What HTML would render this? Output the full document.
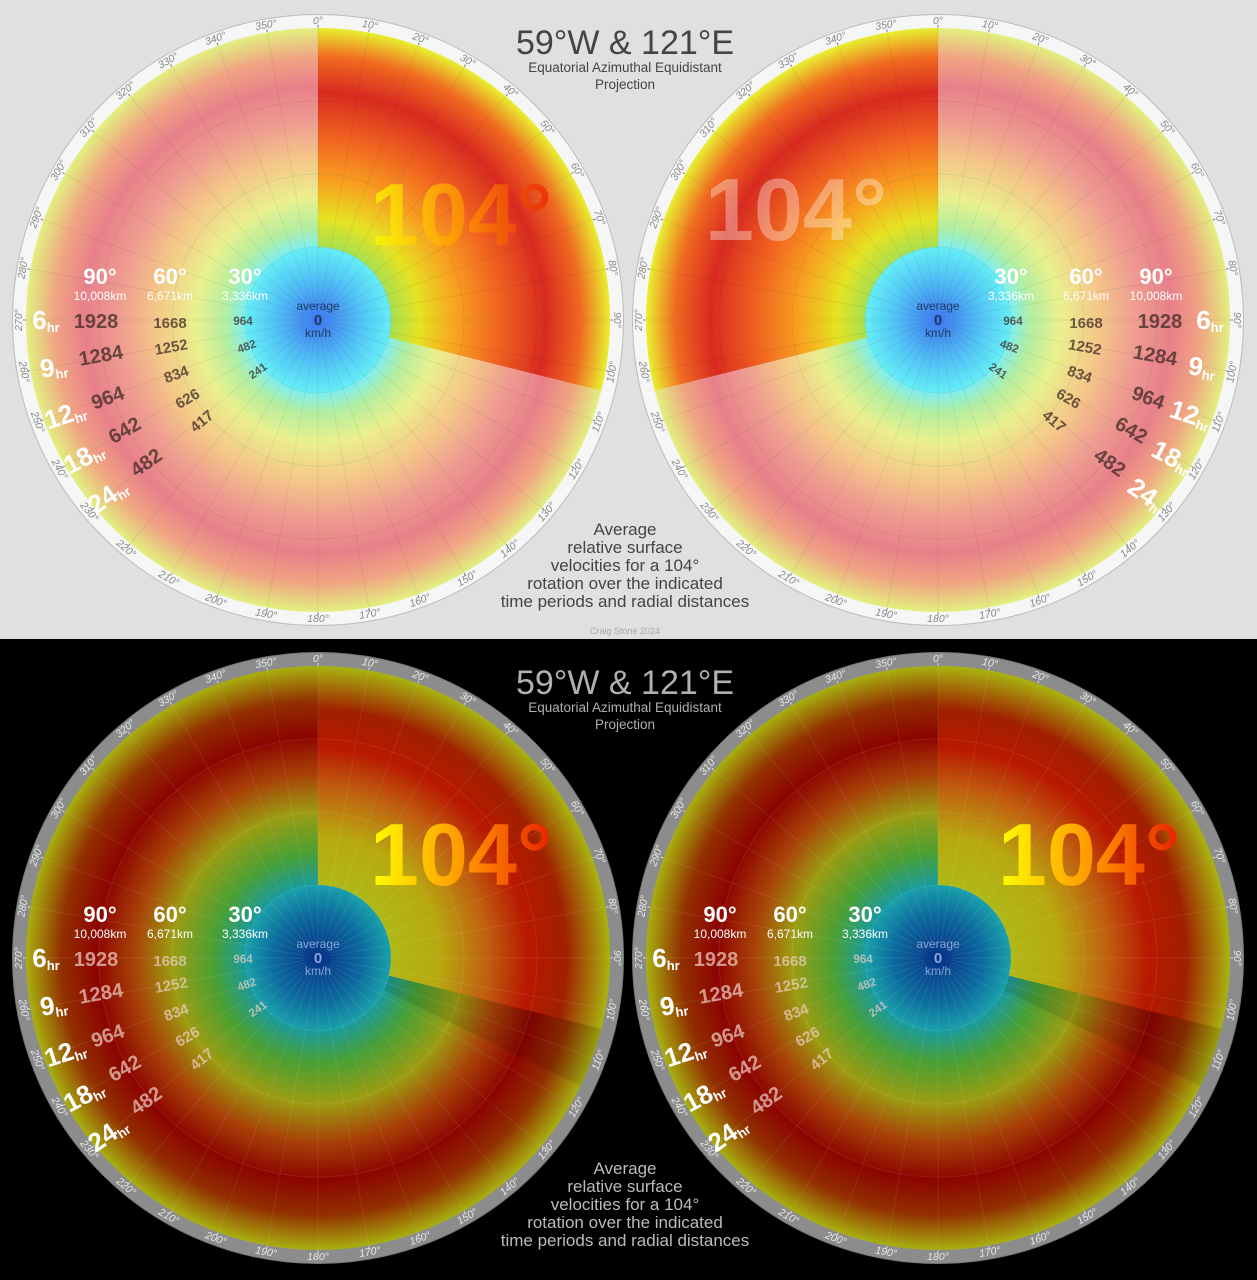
<!DOCTYPE html>
<html><head><meta charset="utf-8"><style>
html,body{margin:0;padding:0;background:#000;}
svg{display:block;font-family:"Liberation Sans",sans-serif;}
</style></head><body>
<svg id="chart" xmlns="http://www.w3.org/2000/svg" width="1257" height="1280" viewBox="0 0 1257 1280">
<rect x="0" y="0" width="1257" height="639" fill="#e0e0e0"/>
<rect x="0" y="639" width="1257" height="641" fill="#000"/>
<g id="discs"></g>
<g text-anchor="middle" fill="#444">
<text x="625" y="54" font-size="34">59°W &amp; 121°E</text>
<text x="625" y="72" font-size="13.5">Equatorial Azimuthal Equidistant</text>
<text x="625" y="89" font-size="13.5">Projection</text>
</g>
<g text-anchor="middle" fill="#b0b0b0">
<text x="625" y="694" font-size="34">59°W &amp; 121°E</text>
<text x="625" y="712" font-size="13.5">Equatorial Azimuthal Equidistant</text>
<text x="625" y="729" font-size="13.5">Projection</text>
</g>
<g text-anchor="middle" fill="#444" font-size="17">
<text x="625" y="535">Average</text>
<text x="625" y="553">relative surface</text>
<text x="625" y="571">velocities for a 104°</text>
<text x="625" y="589">rotation over the indicated</text>
<text x="625" y="607">time periods and radial distances</text>
<text x="625" y="634" font-size="9" fill="#a8a8a8">Craig Stone 2024</text>
</g>
<g text-anchor="middle" fill="#bbb" font-size="17">
<text x="625" y="1174">Average</text>
<text x="625" y="1192">relative surface</text>
<text x="625" y="1210">velocities for a 104°</text>
<text x="625" y="1228">rotation over the indicated</text>
<text x="625" y="1246">time periods and radial distances</text>
</g>
</svg>
<script>
const NS="http://www.w3.org/2000/svg";
const rotationDeg=104;
const angleHeaders=["90°","60°","30°"];
const distanceHeaders=["10,008km","6,671km","3,336km"];
const hourLabels=["6","9","12","18","24"];
const speed90=["1928","1284","964","642","482"];
const speed60=["1668","1252","834","626","417"];
const speed30=["964","482","241"];
const ringTicks=[0,10,20,30,40,50,60,70,80,90,100,110,120,130,140,150,160,170,180,190,200,210,220,230,240,250,260,270,280,290,300,310,320,330,340,350];

const R=292, RI=73, RO=306;
const discs=[
 {id:"tl",cx:318,cy:320,dark:false,w0:0,w1:rotationDeg,mirror:false,bx:370,by:245},
 {id:"tr",cx:938,cy:320,dark:false,w0:360-rotationDeg,w1:360,mirror:true,bx:705,by:240},
 {id:"bl",cx:318,cy:958,dark:true,w0:0,w1:rotationDeg,mirror:false,bx:370,by:885},
 {id:"br",cx:938,cy:958,dark:true,w0:0,w1:rotationDeg,mirror:false,bx:998,by:885}
];
const G={
 lightOut:[[0.25,"#80eef0"],[0.32,"#b4eea0"],[0.42,"#eaf08e"],[0.55,"#f4c888"],[0.68,"#ee9c90"],[0.8,"#e8808a"],[0.9,"#f0a482"],[1,"#e2f080"]],
 lightIn:[[0.25,"#a8e050"],[0.35,"#e6e222"],[0.48,"#f8a020"],[0.62,"#f06420"],[0.78,"#d82a20"],[0.9,"#f06a20"],[1,"#e8f030"]],
 darkOut:[[0.25,"#1a9a9c"],[0.36,"#4aa034"],[0.5,"#9c9c12"],[0.63,"#a84208"],[0.76,"#8c0400"],[0.88,"#923000"],[1,"#a8b010"]],
 darkIn:[[0.25,"#b0b818"],[0.42,"#b8a810"],[0.58,"#c06010"],[0.72,"#b81800"],[0.85,"#a02000"],[1,"#a8b410"]],
 lightCore:[[0,"#3e74ee"],[0.6,"#52c4f6"],[1,"#66eef6"]],
 darkCore:[[0,"#062f86"],[0.6,"#0c6a9e"],[1,"#1aa0aa"]]
};
const defs=document.createElementNS(NS,"defs");
document.getElementById("chart").prepend(defs);
function grad(id,cx,cy,r,stops){
 const g=document.createElementNS(NS,"radialGradient");
 g.setAttribute("id",id);g.setAttribute("gradientUnits","userSpaceOnUse");
 g.setAttribute("cx",cx);g.setAttribute("cy",cy);g.setAttribute("r",r);
 stops.forEach(s=>{const st=document.createElementNS(NS,"stop");st.setAttribute("offset",s[0]);st.setAttribute("stop-color",s[1]);g.appendChild(st);});
 defs.appendChild(g);
}
function pt(cx,cy,r,a){const t=a*Math.PI/180;return [cx+r*Math.sin(t),cy-r*Math.cos(t)];}
function sector(cx,cy,r0,r1,a0,a1){
 const p1=pt(cx,cy,r1,a0),p2=pt(cx,cy,r1,a1),p3=pt(cx,cy,r0,a1),p4=pt(cx,cy,r0,a0);
 const lg=(a1-a0)>180?1:0;
 return `M${p1} A${r1},${r1} 0 ${lg} 1 ${p2} L${p3} A${r0},${r0} 0 ${lg} 0 ${p4}Z`;
}
function el(tag,attrs,parent){const e=document.createElementNS(NS,tag);for(const k in attrs)e.setAttribute(k,attrs[k]);parent.appendChild(e);return e;}
function txt(parent,x,y,s,size,fill,opts){
 const t=el("text",{x:x,y:y,"font-size":size,fill:fill,"text-anchor":"middle"},parent);
 if(opts&&opts.bold)t.setAttribute("font-weight","bold");
 if(opts&&opts.rot)t.setAttribute("transform",`rotate(${opts.rot} ${x} ${y})`);
 if(opts&&opts.op)t.setAttribute("fill-opacity",opts.op);
 t.textContent=s;return t;
}
const root=document.getElementById("discs");
discs.forEach(d=>{
 const g=el("g",{},root);
 
 
 const {cx,cy}=d;
 grad(d.id+"o",cx,cy,R,d.dark?G.darkOut:G.lightOut);
 grad(d.id+"i",cx,cy,R,d.dark?G.darkIn:G.lightIn);
 grad(d.id+"c",cx,cy,RI,d.dark?G.darkCore:G.lightCore);
 const ring=el("circle",{cx:cx,cy:cy,r:RO-0.5,fill:d.dark?"#8c8c8c":"#f6f6f6",stroke:d.dark?"#777":"#bbb","stroke-width":1},g);
 
 
 const base=el("circle",{cx:cx,cy:cy,r:R,fill:`url(#${d.id}o)`},g);
 
 
 const w=el("path",{d:sector(cx,cy,RI,R,d.w0,d.w1),fill:`url(#${d.id}i)`},g);
 
 
 if(d.dark){
  const sh=el("path",{d:sector(cx,cy,RI,R,d.w1,d.w1+12),fill:"#000","fill-opacity":0.1},g);
  
  
 }
 const core=el("circle",{cx:cx,cy:cy,r:RI,fill:`url(#${d.id}c)`},g);
 
 
 const grid=el("g",{stroke:d.dark?"#fff":"#000","stroke-opacity":d.dark?0.1:0.08,"stroke-width":0.8,fill:"none"},g);
 
 
 [RI,146,219].forEach(r=>el("circle",{cx:cx,cy:cy,r:r},grid));
 for(let a=0;a<360;a+=10){const p=pt(cx,cy,R,a);const p0=pt(cx,cy,14,a);el("line",{x1:p0[0],y1:p0[1],x2:p[0],y2:p[1]},grid);}
 const rl=el("g",{},g);
 
 
 ringTicks.forEach(a=>{
  const p=pt(cx,cy,R+7,a);
  const rot=(a>90&&a<270)?a+180:a;
  const t=txt(rl,p[0],p[1],a+"°",10.5,d.dark?"#e8e8e8":"#888",{rot:rot});
  t.setAttribute("font-style","italic");
  t.setAttribute("dominant-baseline","middle");
  const q=pt(cx,cy,R+0.5,a),q2=pt(cx,cy,R+3,a);
  el("line",{x1:q[0],y1:q[1],x2:q2[0],y2:q2[1],stroke:d.dark?"#ddd":"#777","stroke-width":1},rl);
 });
 const lg=document.createElementNS(NS,"linearGradient");
 lg.setAttribute("id",d.id+"lt");
 [[0,"#ffff00"],[0.55,"#ff9000"],[1,"#e82000"]].forEach(s=>{const st=document.createElementNS(NS,"stop");st.setAttribute("offset",s[0]);st.setAttribute("stop-color",s[1]);lg.appendChild(st);});
 defs.appendChild(lg);
 const big=el("text",{x:d.bx,y:d.by,"font-size":88,"font-weight":"bold",fill:d.id==="tr"?"#ffffff":`url(#${d.id}lt)`,"fill-opacity":d.dark?1:(d.id==="tr"?0.35:0.75)},g);
 big.textContent=rotationDeg+"°";
 
 
 const cc=el("g",{},g);
 
 
 const cf=d.dark?"#86a6d6":"#1e3a62";
 txt(cc,cx,cy-10,"average",12,cf);txt(cc,cx,cy+5,"0",15,cf,{bold:true});txt(cc,cx,cy+17,"km/h",12,cf);
 const L=el("g",{},g);
 
 
 const m=d.mirror?-1:1;
 const X=dx=>cx+m*dx, oy=cy-320;
 const numFill=d.dark?"#f0d0c8":"#3e2a24", numOp=d.dark?0.7:0.75;
 const hx=[-218,-148,-73];
 angleHeaders.forEach((h,i)=>{txt(L,X(hx[i]),oy+284,h,22,"#fff",{bold:true});txt(L,X(hx[i]),oy+300,distanceHeaders[i],12,"#fff");});
 const hrPos=[[-272,329,0],[-263,376,-8],[-250,423,-18],[-230,465,-28],[-205,503,-35]];
 const p90=[[-222,328,0],[-216,362,-10],[-208,404,-20],[-190,436,-30],[-168,468,-35]];
 const p60=[[-148,328,0],[-146,352,-10],[-140,379,-20],[-128,403,-30],[-113,425,-40]];
 const p30=[[-75,325,0],[-70,350,-20],[-58,374,-35]];
 hourLabels.forEach((h,i)=>{
  const [dx,y,r]=hrPos[i];
  const t=el("text",{x:X(dx),y:oy+y,"font-size":26,"font-weight":"bold",fill:"#fff","text-anchor":"middle",transform:`rotate(${m*r} ${X(dx)} ${oy+y})`},L);
  t.textContent=h;
  const s=document.createElementNS(NS,"tspan");s.setAttribute("font-size",13);s.setAttribute("dy",3);s.textContent="hr";t.appendChild(s);
  const [a,b,c]=p90[i];txt(L,X(a),oy+b,speed90[i],20,numFill,{bold:true,rot:m*c,op:numOp});
  const [a2,b2,c2]=p60[i];txt(L,X(a2),oy+b2,speed60[i],15,numFill,{bold:true,rot:m*c2,op:numOp});
 });
 speed30.forEach((s,i)=>{const [a,b,c]=p30[i];txt(L,X(a),oy+b,s,11.5,numFill,{bold:true,rot:m*c,op:numOp});});
});
</script>
</body></html>
